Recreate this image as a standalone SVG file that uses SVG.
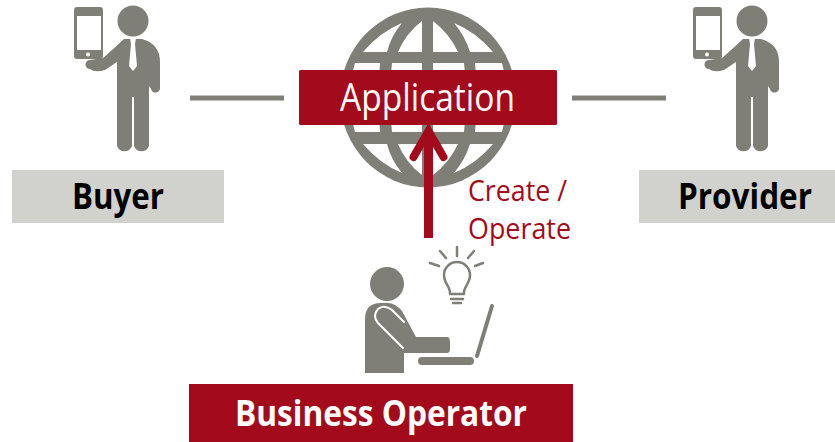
<svg xmlns="http://www.w3.org/2000/svg" width="835" height="442" viewBox="0 0 835 442">
<style>
.g{fill:#7f7f78}
.gs{fill:none;stroke:#7f7f78;stroke-linecap:round;stroke-linejoin:round}
.w{fill:#fff}
.r{fill:#a30a1b}
.t{font-family:"Open Sans","Noto Sans",sans-serif;text-anchor:middle}
.s{text-anchor:start}
.b{font-weight:700;font-size:35px;fill:#000}
.c{font-size:30px;fill:#a30a1b}
</style>
<defs>
<g id="man">
<rect x="74" y="7" width="29" height="52" rx="3" class="g"/>
<rect x="77" y="16" width="24" height="34" class="w"/>
<circle cx="88" cy="54.500" r="2" class="w"/>
<circle cx="133" cy="21" r="15.500" class="g"/>
<path class="g" d="M124 39L142 39Q160 44 160 62V87A4.500 4.500 0 0 1 151 89L149 86V146A8 8 0 0 1 134 146V97H132V146A8 8 0 0 1 117 146V85L117 62L105 70Q95 73 90 69A4 4 0 0 1 90 60L103 58Q110 52 124 39Z"/>
<path class="w" d="M130 38H136L135 44L137 66L133 71L129 66L131 44Z"/>
</g>
</defs>
<g id="connectors">
<path d="M190 98H284M572 98H666" stroke="#7f7f78" stroke-width="5" fill="none"/>
</g>
<g id="globe">
<ellipse cx="428" cy="97.500" rx="88" ry="90" class="g"/>
<path class="w" d="M363 52Q380 32 402 23Q391 36 387 52ZM398 52Q406 33 422 21V52ZM433 21Q449 33 458 52H433ZM454 23Q476 32 493 52H470Q465 36 454 23ZM355 63H380Q377 97 380 132H355Q345 97 355 63ZM392 63H422V132H392Q388 97 392 63ZM433 63H464Q468 97 464 132H433ZM475 63H502Q511 97 502 132H475Q479 97 475 63ZM363 144H387Q391 160 402 173Q380 164 363 144ZM398 144H422V175Q406 163 398 144ZM433 144H458Q449 163 433 175ZM470 144H493Q476 164 454 173Q465 160 470 144Z"/>
</g>
<g id="application">
<rect x="299" y="70" width="258" height="55" rx="1.500" class="r"/>
<text class="t s" x="340" y="111" font-size="38" fill="#fff" textLength="175" lengthAdjust="spacingAndGlyphs">Application</text>
</g>
<g id="arrow">
<path d="M428.500 238V132" stroke="#a30a1b" stroke-width="9" fill="none"/>
<path d="M413.500 157L428.500 131L443.500 157" stroke="#a30a1b" stroke-width="8" stroke-linecap="round" fill="none"/>
<path d="M428.500 125L434 136H423Z" class="r"/>
</g>
<g id="create-label">
<text class="t s c" x="468" y="201" textLength="99" lengthAdjust="spacingAndGlyphs">Create /</text>
<text class="t s c" x="468" y="239" textLength="103" lengthAdjust="spacingAndGlyphs">Operate</text>
</g>
<g id="buyer">
<use href="#man"/>
<rect x="12" y="170" width="212" height="53" fill="#d1d2cd"/>
<text class="t s b" x="72" y="209" textLength="92" lengthAdjust="spacingAndGlyphs">Buyer</text>
</g>
<g id="provider">
<use href="#man" x="619"/>
<rect x="639" y="170" width="196" height="53" fill="#d1d2cd"/>
<text class="t s b" x="678" y="209" textLength="134" lengthAdjust="spacingAndGlyphs">Provider</text>
</g>
<g id="business-operator">
<circle cx="387" cy="284" r="17" class="g"/>
<path class="g" d="M365 373V319Q365 303 381 303H388Q395 303 402 311L416 337H447Q450 337 450 342V349Q450 353 447 353H404V373Z"/>
<path d="M404 322L392 310Q384 304 378 309Q372 316 378 323L403 348" fill="none" stroke="#fff" stroke-width="2" stroke-linecap="round"/>
<rect x="418" y="357" width="56" height="8" rx="4" class="g"/>
<path class="gs" stroke-width="4" d="M492 306L477 356"/>
<path class="gs" stroke-width="2.500" d="M450 294C451 287 444 284 444 275A13 13 0 0 1 470 275C470 284 463 287 464 294ZM451 299H463M453 303H461"/>
<path class="gs" stroke-width="2.500" d="M457 247V256M440 251L446 258M474 251L468 258M430 263L439 266M483 263L475 266"/>
<rect x="189" y="384" width="384" height="58" class="r"/>
<text class="t s" x="235" y="426" font-size="35" font-weight="700" fill="#fff" textLength="292" lengthAdjust="spacingAndGlyphs">Business Operator</text>
</g>
</svg>
